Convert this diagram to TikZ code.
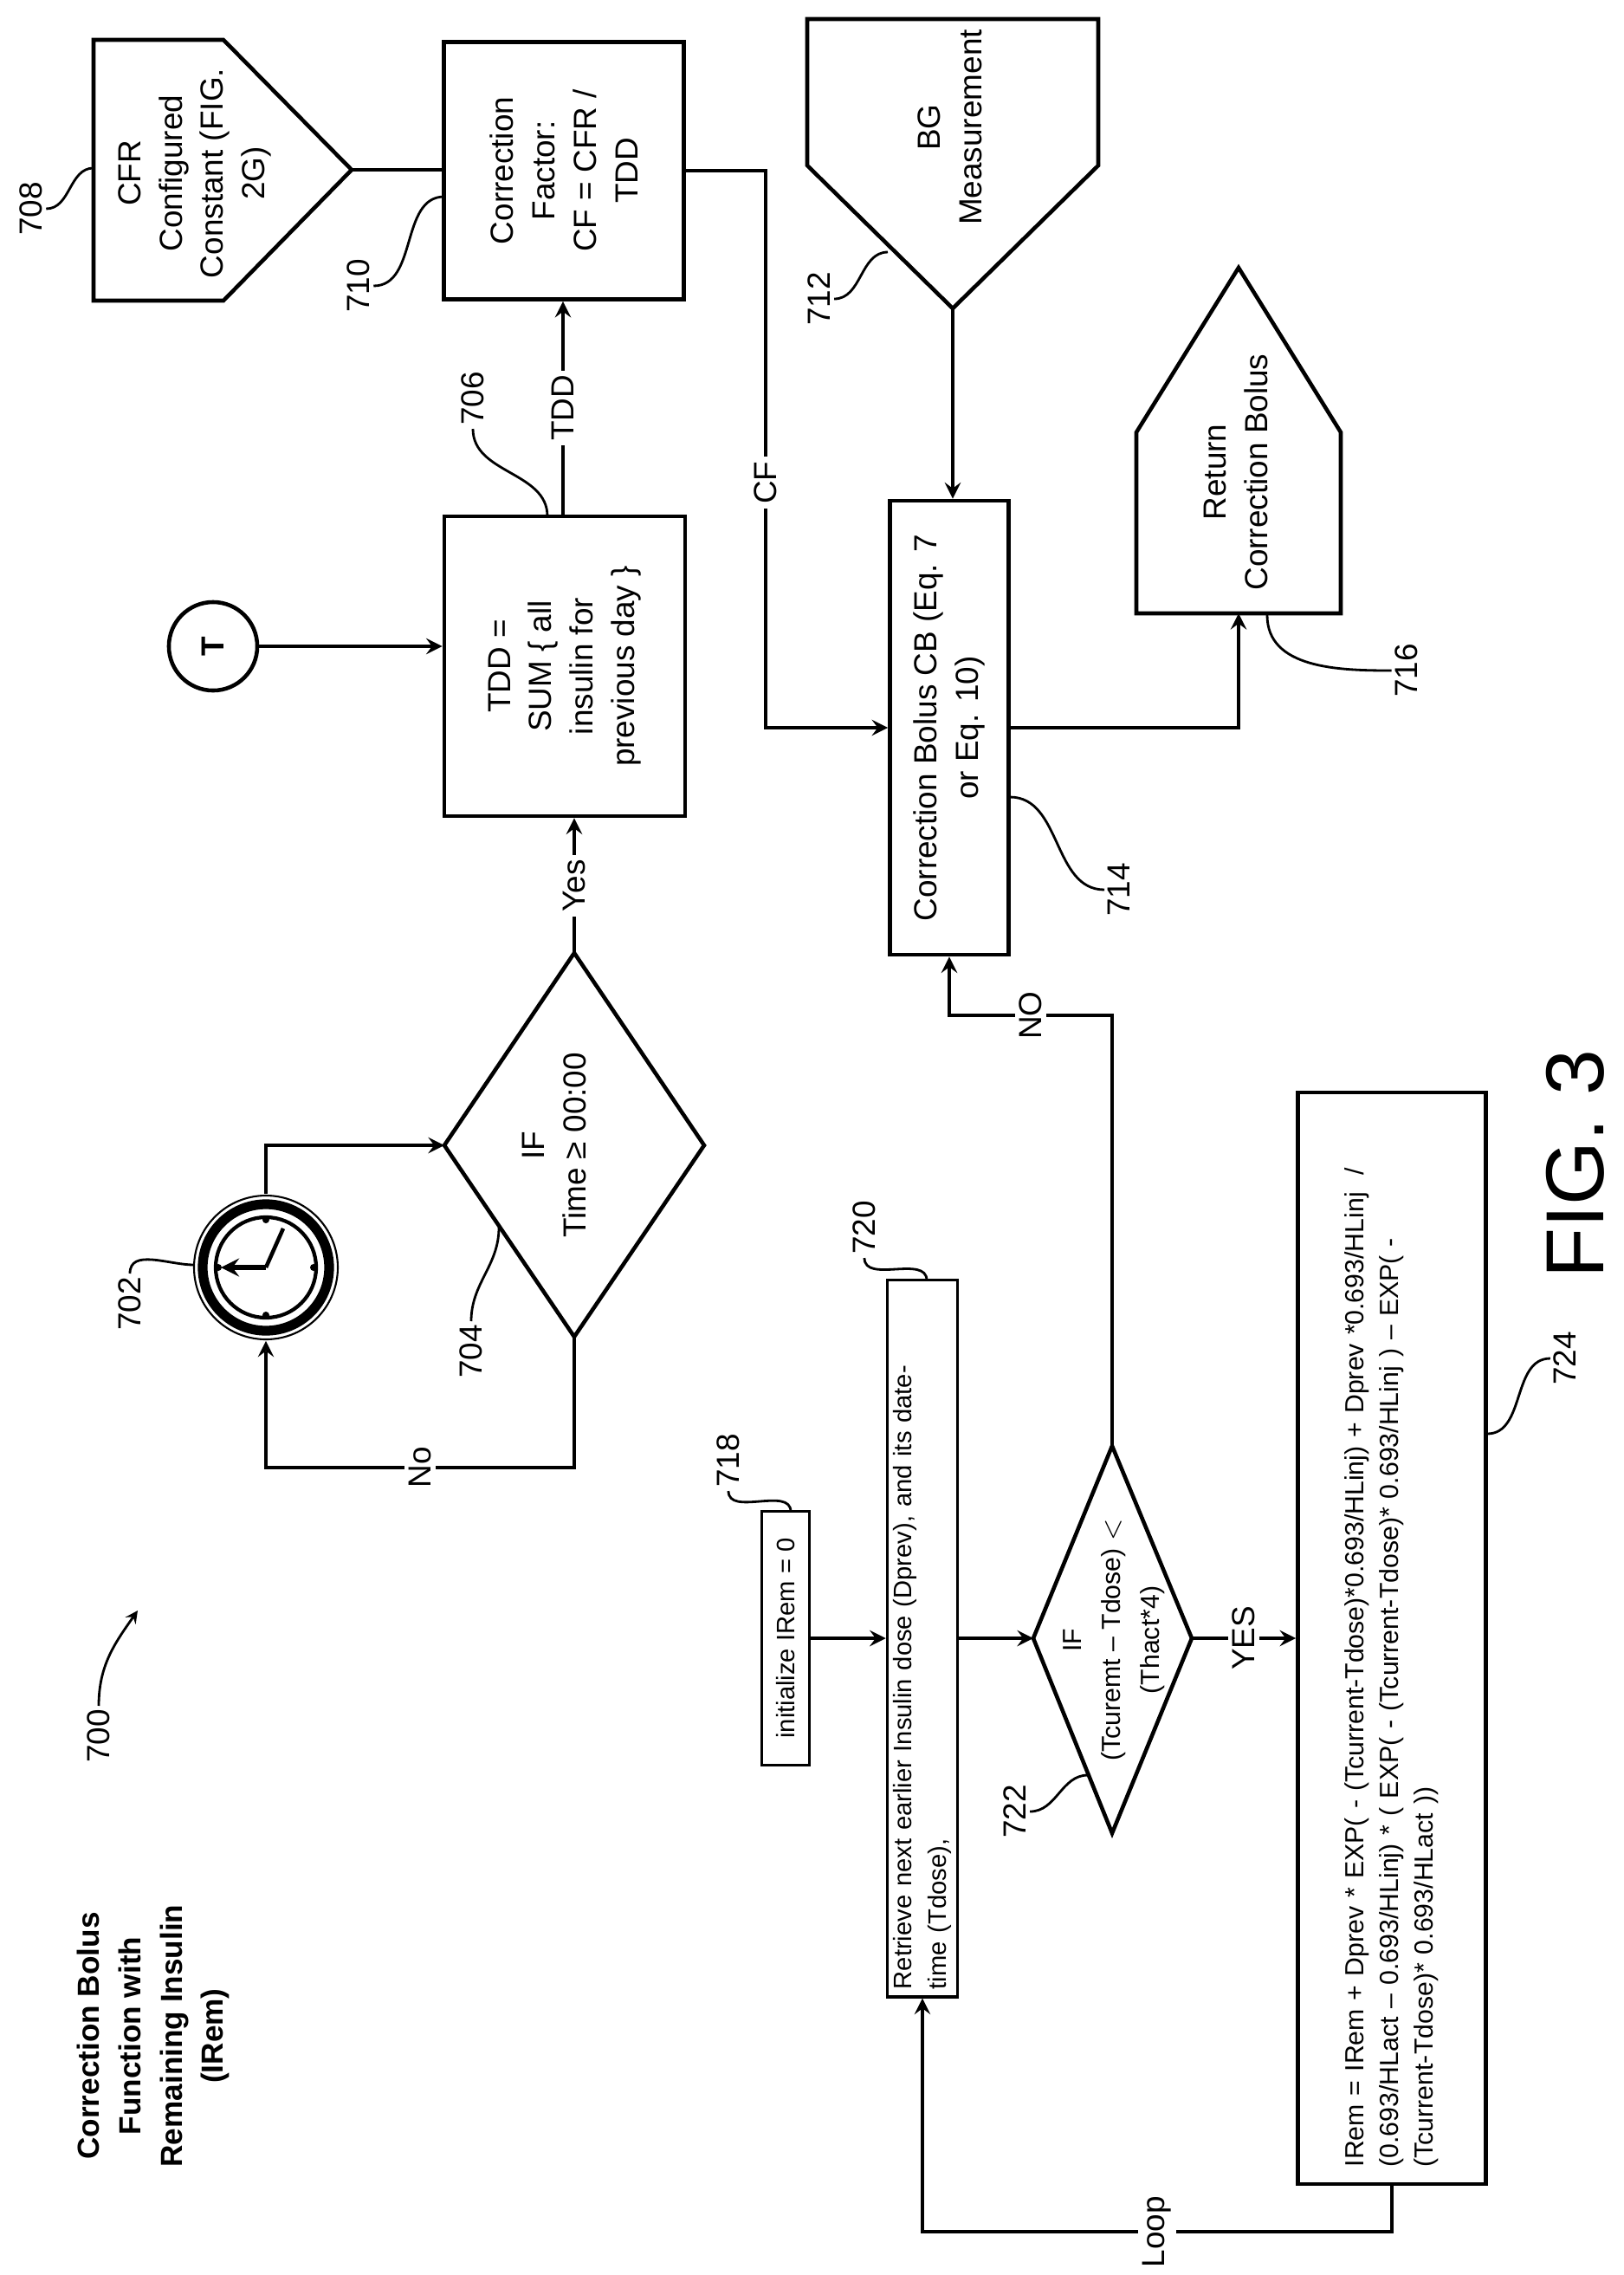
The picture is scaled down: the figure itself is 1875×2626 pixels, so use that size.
\documentclass[tikz,border=0pt]{standalone}
\usepackage{fontspec}
\setmainfont{Liberation Sans}
\usetikzlibrary{arrows}
\usetikzlibrary{positioning}
\usetikzlibrary{shapes.geometric}

\begin{document}
\begin{tikzpicture}[x=0.01cm,y=-0.01cm,line join=miter]
\tikzstyle{box} = [rectangle, draw=black, line width=1.3pt, rotate=90, align=center, inner sep=2pt, font=\fontsize{10.5}{13.6}\selectfont]
\tikzstyle{small} = [box, line width=1pt, align=left, inner sep=1pt, font=\fontsize{8.3}{11.2}\selectfont]
\tikzstyle{txt} = [rotate=90, align=center, font=\fontsize{10.5}{13.6}\selectfont]
\tikzstyle{lbl} = [rotate=90, fill=white, inner sep=1.5pt, font=\fontsize{10.5}{12}\selectfont]
\tikzstyle{num} = [rotate=90, inner sep=1pt, font=\fontsize{10.5}{12}\selectfont]
\tikzstyle{outline} = [line width=1.3pt]
\tikzstyle{lead} = [line width=0.8pt]
\tikzstyle{arrow} = [line width=1.3pt,->,>=stealth]

\useasboundingbox (0,0) rectangle (1875,2626);

% title and figure number
\node (title) [txt, font=\fontsize{10}{13.6}\selectfont\bfseries] at (177,2350) {Correction Bolus\\Function with\\Remaining Insulin\\(IRem)};
\node (fig) [txt, font=\fontsize{27}{30}\selectfont] at (1819,1344) {FIG. 3};
\node (n700) [num] at (114,2004) {700};
\draw [lead,->,>=stealth] (n700.east) to[out=90,in=235] (159,1859);

% inputs
\draw [outline] (108,46) -- (258,46) -- (406,196) -- (258,347) -- (108,347) -- cycle;
\coordinate (cfr) at (406,196);
\node (cfrtext) [txt] at (225,200) {CFR\\Configured\\Constant (FIG.\\2G)};
\draw [outline] (932,22) -- (1268,22) -- (1268,191) -- (1100,356) -- (932,191) -- cycle;
\coordinate (bg) at (1100,356);
\node (bgtext) [txt] at (1097,147) {BG\\Measurement};
\draw [outline] (1312,708) -- (1312,499) -- (1430,309) -- (1548,499) -- (1548,708) -- cycle;
\coordinate (ret) at (1430,708);
\node (rettext) [txt] at (1427,545) {Return\\Correction Bolus};

% boxes
\node (cf) [box, minimum width=2.97cm, minimum height=2.77cm] at (651,197) {Correction\\Factor:\\CF = CFR /\\TDD};
\node (tdd) [box, minimum width=3.46cm, minimum height=2.78cm] at (652,769) {TDD =\\SUM \{ all\\insulin for\\previous day \}};
\node (cb) [box, minimum width=5.24cm, minimum height=1.37cm] at (1096,840) {Correction Bolus CB (Eq. 7\\or Eq. 10)};
\node (t) [circle, draw, line width=1.3pt, minimum size=1.02cm, inner sep=0pt, rotate=90, font=\fontsize{10.5}{12}\selectfont\bfseries] at (246,746) {T};
\node (init) [small, minimum width=2.93cm, minimum height=0.55cm] at (907,1891) {initialize IRem = 0};
\node (fetch) [small, minimum width=8.27cm, minimum height=0.81cm, text width=8.1cm] at (1065,1891) {Retrieve next earlier Insulin dose (Dprev), and its date-\\time (Tdose),};
\node (irem) [small, line width=1.3pt, minimum width=12.59cm, minimum height=2.17cm, text width=12.2cm, font=\fontsize{8.6}{11.4}\selectfont] at (1607,1891) {IRem = IRem + Dprev * EXP( - (Tcurrent-Tdose)*0.693/HLinj) + Dprev *0.693/HLinj \ /\\(0.693/HLact -- 0.693/HLinj) * ( EXP( - (Tcurrent-Tdose)* 0.693/HLinj ) -- EXP( -\\(Tcurrent-Tdose)* 0.693/HLact ))};

% decisions
\coordinate (ifa-top) at (663,1100);
\coordinate (ifa-left) at (513,1322);
\coordinate (ifa-bot) at (663,1543);
\coordinate (ifa-right) at (813,1322);
\draw [outline] (ifa-top) -- (ifa-left) -- (ifa-bot) -- (ifa-right) -- cycle;
\node (ifatext) [txt] at (640,1322) {IF\\Time ≥ 00:00};
\coordinate (ifb-top) at (1284,1669);
\coordinate (ifb-left) at (1193,1891);
\coordinate (ifb-bot) at (1284,2116);
\coordinate (ifb-right) at (1376,1891);
\draw [outline] (ifb-top) -- (ifb-left) -- (ifb-bot) -- (ifb-right) -- cycle;
\node (ifbtext) [txt, font=\fontsize{8.6}{12.8}\selectfont] at (1286,1893) {IF\\(Tcuremt -- Tdose) $<$\\(Thact*4)};

% clock
\node (clock) [circle, minimum size=1.68cm, inner sep=0pt] at (307,1463) {};
\draw [line width=0.6pt] (clock.center) circle (83);
\draw [line width=3.2pt] (clock.center) circle (73);
\draw [line width=1.2pt] (clock.center) circle (58);
\foreach \a in {0,90,180,270}
  \fill (clock.center) ++(\a:55) circle (4);
\draw [line width=1.6pt,->,>=stealth] (clock.center) -- ++(-52,0);
\draw [line width=1.3pt] (clock.center) -- ++(20,-45);

% connectors
\draw [arrow] (clock.north) |- (ifa-left);
\draw [arrow] (ifa-bot) -- ++(0,151) -| node[pos=0.25,lbl] {No} (clock.south);
\draw [arrow] (ifa-top) -- node[lbl] {Yes} (ifa-top |- tdd.west);
\draw [arrow] (t) -- (t -| tdd.north);
\draw [arrow] (tdd.east -| 650,0) -- node[lbl] {TDD} (cf.west -| 650,0);
\draw [outline] (cfr) -- (cfr -| cf.north);
\coordinate (cfbend) at (884,197);
\draw [arrow] (cf.south) -- (cfbend) |- node[pos=0.28,lbl] {CF} (cb);
\draw [arrow] (bg) -- (bg |- cb.east);
\draw [arrow] (cb.south) -| (ret);
\draw [arrow] (init) -- (fetch);
\draw [arrow] (fetch) -- (ifb-left);
\draw [arrow] (ifb-right) -- node[lbl] {YES} (irem);
\draw [arrow] (ifb-top) -- ++(0,-497) -| node[pos=0.25,lbl] {NO} (cb.west);
\draw [arrow] (irem.west) -- ++(0,53) -| node[pos=0.25,lbl] {Loop} (fetch.west);

% reference numerals
\node (n708) [num] at (36,241) {708};
\draw [lead] (n708.south) to[out=0,in=180] (108,194);
\node (n710) [num] at (414,330) {710};
\draw [lead] (n710.south) to[out=0,in=180] (513,227);
\node (n706) [num] at (546,460) {706};
\draw [lead] (n706.west) to[out=-90,in=90] (632,596);
\node (n712) [num] at (946,345) {712};
\draw [lead] (n712.south) to[out=0,in=180] (1025,291);
\node (n714) [num] at (1292,1027) {714};
\draw [lead] (n714.north) to[out=180,in=0] (1166,920);
\node (n716) [num] at (1624,774) {716};
\draw [lead] (n716.north) to[out=180,in=-90] (1463,710);
\node (n702) [num] at (150,1505) {702};
\draw [lead] (n702.east) to[out=90,in=180] (224,1460);
\node (n704) [num] at (544,1560) {704};
\draw [lead] (n704.east) to[out=90,in=-90] (576,1417);
\node (n718) [num] at (841,1686) {718};
\draw [lead] (n718.west) to[out=-90,in=90] (913,1745);
\node (n720) [num] at (998,1417) {720};
\draw [lead] (n720.west) to[out=-90,in=90] (1070,1478);
\node (n722) [num] at (1172,2091) {722};
\draw [lead] (n722.south) to[out=0,in=180] (1256,2049);
\node (n724) [num] at (1807,1568) {724};
\draw [lead] (n724.north) to[out=180,in=0] (1717,1655);
\end{tikzpicture}
\end{document}
